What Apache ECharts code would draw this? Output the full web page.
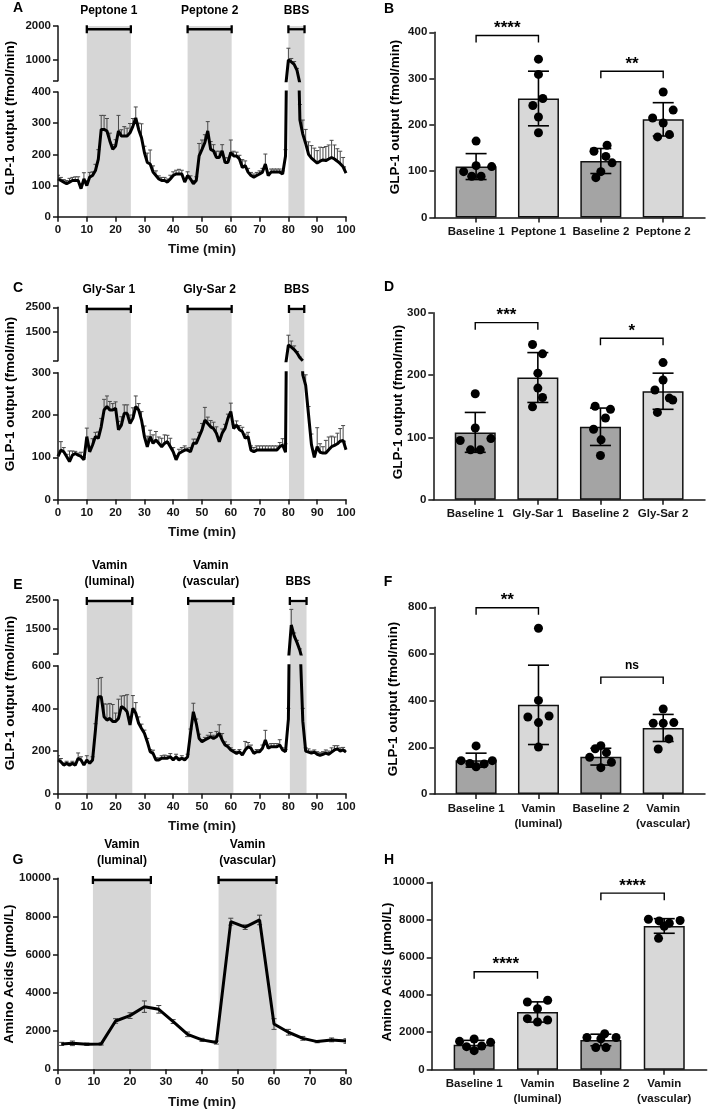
<!DOCTYPE html>
<html><head><meta charset="utf-8">
<script src="https://cdn.jsdelivr.net/npm/echarts@6/dist/echarts.min.js"></script>
<style>html,body{margin:0;padding:0;background:#fff}#c{width:709px;height:1111px}</style>
</head><body><div id="c"></div>
<script>
// ---------------- DATA ----------------
const minutes = [0,1,2,3,4,5,6,7,8,9,10,11,12,13,14,15,16,17,18,19,20,21,22,23,24,25,26,27,28,29,30,31,32,33,34,35,36,37,38,39,40,41,42,43,44,45,46,47,48,49,50,51,52,53,54,55,56,57,58,59,60,61,62,63,64,65,66,67,68,69,70,71,72,73,74,75,76,77,78,79,80,81,82,83,84,85,86,87,88,89,90,91,92,93,94,95,96,97,98,99,100];

// Panel A: GLP-1 output, peptone
const glpA = [121,116,111,106,111,116,116,116,90,121,100,127,132,148,185,280,280,275,243,216,227,275,259,259,259,269,290,317,280,253,206,174,169,143,132,121,116,116,111,121,132,137,137,137,111,132,121,106,116,195,216,238,275,216,211,190,190,211,174,174,206,195,195,185,158,164,143,132,127,132,137,143,169,132,143,143,143,143,137,195,1010,950,880,700,310,265,235,200,188,180,172,178,182,180,185,190,185,178,170,160,140];
const semA = [12,10,8,10,12,10,12,12,15,20,15,15,12,20,30,45,45,40,25,15,20,50,20,30,25,30,25,35,20,45,20,30,45,20,15,10,10,10,10,12,12,12,15,12,10,12,10,10,12,40,30,25,30,25,20,20,20,20,15,15,40,15,12,12,25,15,12,10,10,10,10,12,32,10,10,10,10,10,10,20,340,100,80,60,50,45,45,40,40,40,40,45,40,45,45,55,45,40,40,30,20];
const periodsA = [[10,25.3],[45,60.3],[80,85.6]];
const periodLabelsA = ['Peptone 1','Peptone 2','BBS'];

// Panel C: GLP-1 output, Gly-Sar
const glpC = [102,117,113,102,90,105,109,105,102,94,149,113,129,149,145,172,212,220,212,212,216,165,176,204,204,180,192,220,212,188,149,125,149,133,141,133,125,133,137,125,113,94,109,113,117,117,113,133,133,149,165,188,180,172,168,157,137,157,168,192,208,168,176,165,161,145,149,117,113,117,117,117,117,117,117,117,117,125,129,112,950,860,760,620,420,295,270,200,130,100,125,112,110,110,118,125,128,132,138,140,118];
const semC = [10,20,10,5,25,10,5,5,10,5,20,10,15,10,15,20,25,25,20,15,15,20,20,20,20,20,25,25,15,20,25,25,15,20,20,15,20,20,15,20,10,10,10,10,10,5,10,10,10,10,15,30,15,15,15,15,10,10,10,10,20,10,10,10,10,10,10,10,10,10,10,10,10,10,10,10,10,10,15,20,400,250,150,60,30,30,25,20,25,15,45,20,15,30,30,25,20,25,30,35,20];
const periodsC = [[10,25.3],[45,60.3],[80.2,85.5]];
const periodLabelsC = ['Gly-Sar 1','Gly-Sar 2','BBS'];

// Panel E: GLP-1 output, Vamin
const glpE = [158,150,134,142,134,142,134,166,158,134,158,142,158,298,455,455,361,345,353,338,338,353,408,400,384,322,400,377,330,306,283,244,197,189,158,158,166,166,166,173,158,173,158,166,158,173,283,384,330,259,244,252,259,267,259,267,283,252,228,220,205,197,189,197,181,205,220,213,189,197,197,213,252,213,220,220,220,228,205,197,350,1620,1240,1000,720,340,200,195,190,195,185,180,185,190,185,195,205,210,200,205,195];
const semE = [20,15,10,10,10,10,10,25,15,10,20,10,15,30,85,90,60,75,70,80,40,90,50,60,80,40,60,50,30,20,15,15,10,15,10,10,12,15,12,15,10,12,10,12,10,12,20,40,20,20,10,12,15,20,15,25,40,30,15,10,10,10,10,10,10,40,20,15,10,10,10,15,45,15,15,15,15,25,10,10,50,550,100,80,60,60,15,15,10,10,12,12,12,15,15,20,20,15,15,12,10];
const periodsE = [[10,25.8],[45.2,60.9],[80.5,86.3]];
const periodLabelsE = ['Vamin\n(luminal)','Vamin\n(vascular)','BBS'];

// Panel G: amino acids
const minutesG = [1,4,8,12,16,20,24,28,32,36,40,44,48,52,56,60,64,68,72,76,80];
const aminoG = [1330,1360,1310,1330,2530,2810,3280,3140,2500,1830,1540,1400,7730,7440,7820,2370,1940,1620,1450,1540,1480];
const semG = [80,120,60,60,120,150,300,200,100,120,80,80,180,120,250,280,150,100,60,100,120];
const periodsG = [[9.7,25.8],[44.6,60.7]];
const periodLabelsG = ['Vamin\n(luminal)','Vamin\n(vascular)'];

// Panel B
const catsB = ['Baseline 1','Peptone 1','Baseline 2','Peptone 2'];
const meanB = [110, 257, 122, 212];
const sdB = [28, 59, 27, 36];
const dotsB = [[165,99,112,110,89,89],[342,309,257,242,217,183],[156,143,132,118,99,86],[271,232,215,204,174,179]];
const jitB = [[0,-0.2,0,0.25,-0.07,0.08],[0,0,0.07,-0.09,0,0],[0.1,-0.11,0.08,0.18,0,-0.08],[0,0.16,-0.17,0,-0.09,0.1]];
const sigB = [[1,2,393],[3,4,316]];
const sigLabelsB = ['****','**'];

// Panel D
const catsD = ['Baseline 1','Gly-Sar 1','Baseline 2','Gly-Sar 2'];
const meanD = [108, 196, 117, 174];
const sdD = [32, 40, 30, 29];
const dotsD = [[170,115,95,98,80,80],[249,234,203,179,164,149],[150,145,131,113,96,71],[220,192,176,163,160,140]];
const jitD = [[0,0,-0.24,0.25,-0.075,0.08],[-0.085,0.075,0,0,0.075,-0.085],[-0.085,0.16,0.08,-0.11,0.01,0],[0,0,-0.13,0.1,0.155,-0.09]];
const sigD = [[1,2,284],[3,4,259]];
const sigLabelsD = ['***','*'];

// Panel F
const catsF = ['Baseline 1','Vamin\n(luminal)','Baseline 2','Vamin\n(vascular)'];
const meanF = [145, 382, 160, 283];
const sdF = [30, 170, 36, 58];
const dotsF = [[206,143,131,143,117,129],[710,401,330,334,306,201],[207,194,177,157,136,113],[364,303,303,306,236,193]];
const jitF = [[0,-0.24,-0.1,0.26,0,0.13],[0,0,-0.17,0.17,0,0],[0,-0.09,0.09,-0.18,0.17,0],[0,-0.16,0,0.17,0.09,-0.08]];
const sigF = [[1,2,798],[3,4,501]];
const sigLabelsF = ['**','ns'];

// Panel H
const catsH = ['Baseline 1','Vamin\n(luminal)','Baseline 2','Vamin\n(vascular)'];
const meanH = [1335, 3080, 1585, 7670];
const sdH = [230, 540, 310, 390];
const dotsH = [[1513,1638,1460,1228,1264,1015],[3614,3703,3258,2724,2653,2546],[1720,1920,1720,1180,1180,1650],[8030,7940,7960,7820,7650,7010]];
const jitH = [[-0.23,0,0.26,-0.12,0.12,0],[-0.16,0.16,0,-0.16,0.16,0],[-0.22,0.06,0.24,-0.08,0.08,0],[-0.25,-0.08,0.25,0.08,0,-0.09]];
const sigH = [[1,2,5230],[3,4,9420]];
const sigLabelsH = ['****','****'];

// ---------------- STYLE / BUILD ----------------
const FONT = '"Liberation Sans", Arial, Helvetica, sans-serif';
const INK = '#151515';
const SHADE = '#d6d6d6';
const DARK = '#a4a4a4', LIGHT = '#d8d8d8';
const AXL = {show:true, lineStyle:{color:INK, width:1.5}};
const TICK = {show:true, length:5, inside:false, lineStyle:{color:INK, width:1.5}};
const LBL = {show:true, color:INK, fontWeight:'bold', fontSize:11.5, fontFamily:FONT, margin:7, formatter:v=>String(v)};
const NAME = {color:INK, fontWeight:'bold', fontSize:13.5, fontFamily:FONT};

const grid=[], xAxis=[], yAxis=[], series=[], graphic=[];
function addAxes(g, x, y){
  grid.push(Object.assign({outerBoundsMode:'none', containLabel:false}, g));
  const gi = grid.length-1;
  xAxis.push(Object.assign({gridIndex:gi, splitLine:{show:false}}, x));
  yAxis.push(Object.assign({gridIndex:gi, splitLine:{show:false}}, y));
  return gi;
}
function hidden(min,max){ return {type:'value', min:min, max:max, show:false}; }

function errUp(params, api){
  const x=api.value(0), y=api.value(1), e=api.value(2);
  const p0=api.coord([x,y]), p1=api.coord([x,y+e]);
  const s={stroke:'#4a4a4a', lineWidth:1};
  return {type:'group', children:[
    {type:'line', shape:{x1:p0[0],y1:p0[1],x2:p1[0],y2:p1[1]}, style:s},
    {type:'line', shape:{x1:p1[0]-2,y1:p1[1],x2:p1[0]+2,y2:p1[1]}, style:s}]};
}
function errBoth(params, api){
  const x=api.value(0), y=api.value(1), e=api.value(2);
  const p0=api.coord([x,y-e]), p1=api.coord([x,y+e]);
  const s={stroke:'#444', lineWidth:1};
  return {type:'group', children:[
    {type:'line', shape:{x1:p0[0],y1:p0[1],x2:p1[0],y2:p1[1]}, style:s},
    {type:'line', shape:{x1:p1[0]-2.5,y1:p1[1],x2:p1[0]+2.5,y2:p1[1]}, style:s},
    {type:'line', shape:{x1:p0[0]-2.5,y1:p0[1],x2:p0[0]+2.5,y2:p0[1]}, style:s}]};
}

function linePanel(p){
  const L=58, W=288;
  const go = addAxes({left:L, width:W, top:p.top, height:p.bottom-p.top}, hidden(0,p.xMax), hidden(0,1));
  series.push({type:'custom', xAxisIndex:go, yAxisIndex:go, z:1, silent:true, data:p.periods,
    renderItem:(params, api)=>{
      const a=api.coord([api.value(0),1]), b=api.coord([api.value(1),0]);
      return {type:'rect', shape:{x:a[0], y:a[1], width:b[0]-a[0], height:b[1]-a[1]}, style:{fill:SHADE}};
    }});
  const n = p.vals.length;
  const segs = [];
  let gb;
  if (p.broken){
    const gu = addAxes({left:L, width:W, top:p.top, height:p.breakTop-p.top}, hidden(0,p.xMax),
      {type:'value', min:p.upMin, max:p.upMax, axisLine:AXL,
       axisTick:Object.assign({}, TICK, {customValues:[p.upMin].concat(p.upLabels)}),
       axisLabel:Object.assign({}, LBL, {customValues:p.upLabels})});
    // only the stretch of the trace that reaches the upper segment (plus its neighbours)
    const up = p.times.map((t,i)=>{
      const keep = p.vals[i]>=p.upMin || (i>0 && p.vals[i-1]>=p.upMin) || (i<n-1 && p.vals[i+1]>=p.upMin);
      return [t, keep ? p.vals[i] : null];
    });
    segs.push([gu, p.upMin, p.upMax, up]);
    gb = gu;
  }
  const lowTop = p.broken ? p.breakBottom : p.top;
  const gl = addAxes({left:L, width:W, top:lowTop, height:p.bottom-lowTop},
    {type:'value', min:0, max:p.xMax, interval:p.xInterval, axisLine:AXL, axisTick:TICK, axisLabel:LBL, z:5,
     name:'Time (min)', nameLocation:'middle', nameGap:26, nameTextStyle:NAME},
    {type:'value', min:0, max:p.lowMax, interval:p.lowInterval, axisLine:AXL, axisTick:TICK, axisLabel:LBL, z:5});
  segs.push([gl, 0, p.lowMax, p.times.map((t,i)=>[t, p.vals[i]])]);
  if (!p.broken) gb = gl;
  const eb = p.times.map((t,i)=>[t, p.vals[i], p.errs[i]]);
  segs.forEach(([g, mn, mx, pts])=>{
    series.push({type:'custom', xAxisIndex:g, yAxisIndex:g, z:3, clip:true, silent:true,
      data: eb.filter(d=>d[1]>=mn && d[1]<=mx), renderItem: p.both ? errBoth : errUp});
    series.push({type:'line', xAxisIndex:g, yAxisIndex:g, z:4, data:pts, clip:true, connectNulls:false,
      showSymbol:false, symbol:'none', lineStyle:{color:'#000', width:p.lineWidth||3}, silent:true});
  });
  series.push({type:'custom', xAxisIndex:gb, yAxisIndex:gb, z:6, clip:false, silent:true,
    data:p.periods.map((iv,i)=>[iv[0], iv[1], i]),
    renderItem:(params, api)=>{
      const a=api.coord([api.value(0), p.bracketVal]), b=api.coord([api.value(1), p.bracketVal]);
      const s={stroke:'#000', lineWidth:2.3};
      return {type:'group', children:[
        {type:'line', shape:{x1:a[0],y1:a[1],x2:b[0],y2:b[1]}, style:s},
        {type:'line', shape:{x1:a[0],y1:a[1]-4,x2:a[0],y2:a[1]+4}, style:s},
        {type:'line', shape:{x1:b[0],y1:b[1]-4,x2:b[0],y2:b[1]+4}, style:s},
        {type:'text', x:(a[0]+b[0])/2, y:a[1]-11, style:{text:p.labels[api.value(2)], align:'center', verticalAlign:'bottom',
          fill:'#000', font:'bold 12px '+FONT, lineHeight:16}}]};
    }});
}

function barPanel(p){
  const g = addAxes({left:p.left, right:p.right, top:p.top, height:p.bottom-p.top},
    {type:'value', min:0.33, max:4.67, axisLine:AXL, z:5,
     axisTick:Object.assign({}, TICK, {customValues:[1,2,3,4]}),
     axisLabel:Object.assign({}, LBL, {customValues:[1,2,3,4], lineHeight:15, formatter:v=>p.cats[Math.round(v)-1]})},
    {type:'value', min:0, max:p.yMax, interval:p.yInterval, axisLine:AXL, axisTick:TICK, axisLabel:LBL, z:5});
  series.push({type:'bar', xAxisIndex:g, yAxisIndex:g, z:2, barWidth:41, silent:true,
    data:p.means.map((m,i)=>({value:[i+1,m], itemStyle:{color: i%2===0 ? DARK : LIGHT}})),
    itemStyle:{borderColor:'#111', borderWidth:1.5}});
  series.push({type:'custom', xAxisIndex:g, yAxisIndex:g, z:3, silent:true,
    data:p.means.map((m,i)=>[i+1, m, p.sds[i]]),
    renderItem:(params, api)=>{
      const x=api.value(0), m=api.value(1), s=api.value(2);
      const a=api.coord([x,m-s]), b=api.coord([x,m+s]);
      const st={stroke:'#000', lineWidth:1.6};
      return {type:'group', children:[
        {type:'line', shape:{x1:a[0],y1:a[1],x2:b[0],y2:b[1]}, style:st},
        {type:'line', shape:{x1:a[0]-10.5,y1:a[1],x2:a[0]+10.5,y2:a[1]}, style:st},
        {type:'line', shape:{x1:b[0]-10.5,y1:b[1],x2:b[0]+10.5,y2:b[1]}, style:st}]};
    }});
  const dots=[];
  p.dots.forEach((arr,i)=>arr.forEach((v,j)=>dots.push([i+1+p.jit[i][j], v])));
  series.push({type:'scatter', xAxisIndex:g, yAxisIndex:g, z:4, silent:true, data:dots, symbolSize:9,
    itemStyle:{color:'#000', opacity:1}});
  series.push({type:'custom', xAxisIndex:g, yAxisIndex:g, z:6, clip:false, silent:true,
    data:p.sigs.map((s,i)=>[s[0], s[1], s[2], i]),
    renderItem:(params, api)=>{
      const y=api.value(2);
      const a=api.coord([api.value(0), y]), b=api.coord([api.value(1), y]);
      const lab=p.sigLabels[api.value(3)];
      const st={stroke:'#000', lineWidth:1.4};
      const isStar = lab.indexOf('*')>=0;
      return {type:'group', children:[
        {type:'polyline', shape:{points:[[a[0],a[1]+7],[a[0],a[1]],[b[0],b[1]],[b[0],b[1]+7]]}, style:Object.assign({fill:null}, st)},
        {type:'text', x:(a[0]+b[0])/2, y: isStar ? a[1]-7 : a[1]-11,
         style:{text:lab, align:'center', verticalAlign:'middle', fill:'#000',
                font: isStar ? 'bold 17px '+FONT : 'bold 12px '+FONT}}]};
    }});
}

linePanel({top:26, breakTop:80.7, breakBottom:92, bottom:216.7, broken:true, upMin:400, upMax:2000, upLabels:[1000,2000],
  lowMax:400, lowInterval:100, xMax:100, xInterval:10, times:minutes, vals:glpA, errs:semA,
  periods:periodsA, labels:periodLabelsA, bracketVal:1905});
linePanel({top:307.3, breakTop:360.7, breakBottom:372.7, bottom:499.6, broken:true, upMin:300, upMax:2500, upLabels:[1500,2500],
  lowMax:300, lowInterval:100, xMax:100, xInterval:10, times:minutes, vals:glpC, errs:semC,
  periods:periodsC, labels:periodLabelsC, bracketVal:2430});
linePanel({top:600, breakTop:654, breakBottom:665.7, bottom:793.7, broken:true, upMin:600, upMax:2500, upLabels:[1500,2500],
  lowMax:600, lowInterval:200, xMax:100, xInterval:10, times:minutes, vals:glpE, errs:semE,
  periods:periodsE, labels:periodLabelsE, bracketVal:2465});
linePanel({top:878.3, bottom:1069.3, broken:false, lowMax:10000, lowInterval:2000, xMax:80, xInterval:10,
  times:minutesG, vals:aminoG, errs:semG, both:true, lineWidth:3,
  periods:periodsG, labels:periodLabelsG, bracketVal:9910});

barPanel({left:434.3, right:4, top:32.3, bottom:217.5, yMax:400, yInterval:100, cats:catsB, means:meanB, sds:sdB,
  dots:dotsB, jit:jitB, sigs:sigB, sigLabels:sigLabelsB});
barPanel({left:433.3, right:4, top:312.7, bottom:499.7, yMax:300, yInterval:100, cats:catsD, means:meanD, sds:sdD,
  dots:dotsD, jit:jitD, sigs:sigD, sigLabels:sigLabelsD});
barPanel({left:434.3, right:4, top:607.3, bottom:794, yMax:800, yInterval:200, cats:catsF, means:meanF, sds:sdF,
  dots:dotsF, jit:jitF, sigs:sigF, sigLabels:sigLabelsF});
barPanel({left:431.7, right:2.3, top:882.3, bottom:1069.7, yMax:10000, yInterval:2000, cats:catsH, means:meanH, sds:sdH,
  dots:dotsH, jit:jitH, sigs:sigH, sigLabels:sigLabelsH});

// panel letters and y-axis titles
const letters = [['A',18,8],['B',389,9],['C',18,288],['D',389,287.5],['E',18,585],['F',388,582],['G',18,860],['H',389,860]];
letters.forEach(([t,x,y])=>graphic.push({type:'text', x:x, y:y, style:{text:t, align:'center', verticalAlign:'middle', fill:'#000', font:'bold 14px '+FONT}}));
const yTitles = [['GLP-1 output (fmol/min)',10,118],['GLP-1 output (fmol/min)',10,394],['GLP-1 output (fmol/min)',10,693],['Amino Acids (µmol/L)',9,974],
  ['GLP-1 output (fmol/min)',395,117],['GLP-1 output (fmol/min)',398,402],['GLP-1 output (fmol/min)',393,699],['Amino Acids (µmol/L)',387,972]];
yTitles.forEach(([t,x,y])=>graphic.push({type:'text', x:x, y:y, rotation:Math.PI/2,
  style:{text:t, align:'center', verticalAlign:'middle', fill:'#000', font:'bold 13.5px '+FONT}}));

const chart = echarts.init(document.getElementById('c'), null, {renderer:'canvas'});
chart.setOption({animation:false, backgroundColor:'#fff', grid, xAxis, yAxis, series, graphic});
</script></body></html>
